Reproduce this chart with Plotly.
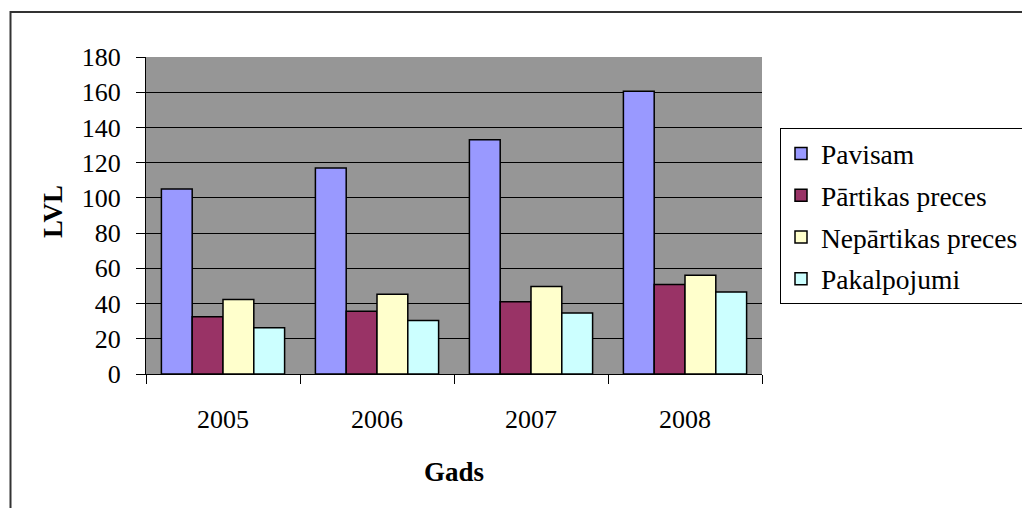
import plotly.graph_objects as go

years = ["2005", "2006", "2007", "2008"]
series_names = ["Pavisam", "Pārtikas preces", "Nepārtikas preces", "Pakalpojumi"]
pavisam = [105.0, 117.0, 133.0, 160.5]
partikas = [32.5, 35.7, 41.0, 50.8]
nepartikas = [42.3, 45.3, 49.7, 56.1]
pakalpojumi = [26.2, 30.4, 34.7, 46.6]
series_values = [pavisam, partikas, nepartikas, pakalpojumi]
colors = ["#9999FF", "#993366", "#FFFFCC", "#CCFFFF"]
y_ticks = [0, 20, 40, 60, 80, 100, 120, 140, 160, 180]

W, H = 1022, 508
L, R, T, B = 146, 762, 57, 374
FONT = "Liberation Serif"

fig = go.Figure()
for name, vals, col in zip(series_names, series_values, colors):
    fig.add_trace(go.Bar(
        x=years, y=vals, name=name, legendgroup=name,
        marker=dict(color=col, line=dict(color="black", width=1.5)),
    ))

pw, ph = R - L, B - T


def px_x(v):
    return (v - L) / pw


def px_y(v):
    return (B - v) / ph


fig.update_layout(
    width=W, height=H,
    margin=dict(l=L, r=W - R, t=T, b=H - B, autoexpand=False),
    paper_bgcolor="white",
    plot_bgcolor="#969696",
    barmode="group",
    bargap=0.2,
    bargroupgap=0,
    font=dict(family=FONT, size=26, color="black"),
    showlegend=True,
    legend=dict(
        x=px_x(780), y=px_y(128), xanchor="left", yanchor="top",
        bgcolor="white", bordercolor="black", borderwidth=1,
        font=dict(family=FONT, size=27.5, color="black"),
        tracegroupgap=3, itemwidth=30,
    ),
    xaxis=dict(
        type="category",
        showline=True, linecolor="black", linewidth=1,
        ticks="outside", ticklen=9, tickcolor="black", tickwidth=1,
        tickson="boundaries",
        showgrid=False,
        ticklabelstandoff=22,
        tickfont=dict(family=FONT, size=26),
        automargin=False,
    ),
    yaxis=dict(
        range=[0, 180],
        tickvals=y_ticks,
        showline=True, linecolor="black", linewidth=1,
        ticks="outside", ticklen=9, tickcolor="black", tickwidth=1,
        showgrid=True, gridcolor="black", gridwidth=1,
        zeroline=False,
        ticklabelstandoff=10,
        tickfont=dict(family=FONT, size=26),
        automargin=False,
    ),
    annotations=[
        dict(text="<b>LVL</b>", xref="paper", yref="paper",
             x=px_x(53), y=px_y(212), textangle=-90, showarrow=False,
             xanchor="center", yanchor="middle",
             font=dict(family=FONT, size=27, color="black")),
        dict(text="<b>Gads</b>", xref="paper", yref="paper",
             x=px_x(454), y=px_y(472), showarrow=False,
             xanchor="center", yanchor="middle",
             font=dict(family=FONT, size=27, color="black")),
    ],
    shapes=[
        dict(type="path", xref="paper", yref="paper",
             path=f"M {px_x(10.5)},{px_y(H + 20)} L {px_x(10.5)},{px_y(12)} L {px_x(W + 20)},{px_y(12)}",
             line=dict(color="#333333", width=2), layer="above"),
    ],
)

fig.write_html("out.html")
